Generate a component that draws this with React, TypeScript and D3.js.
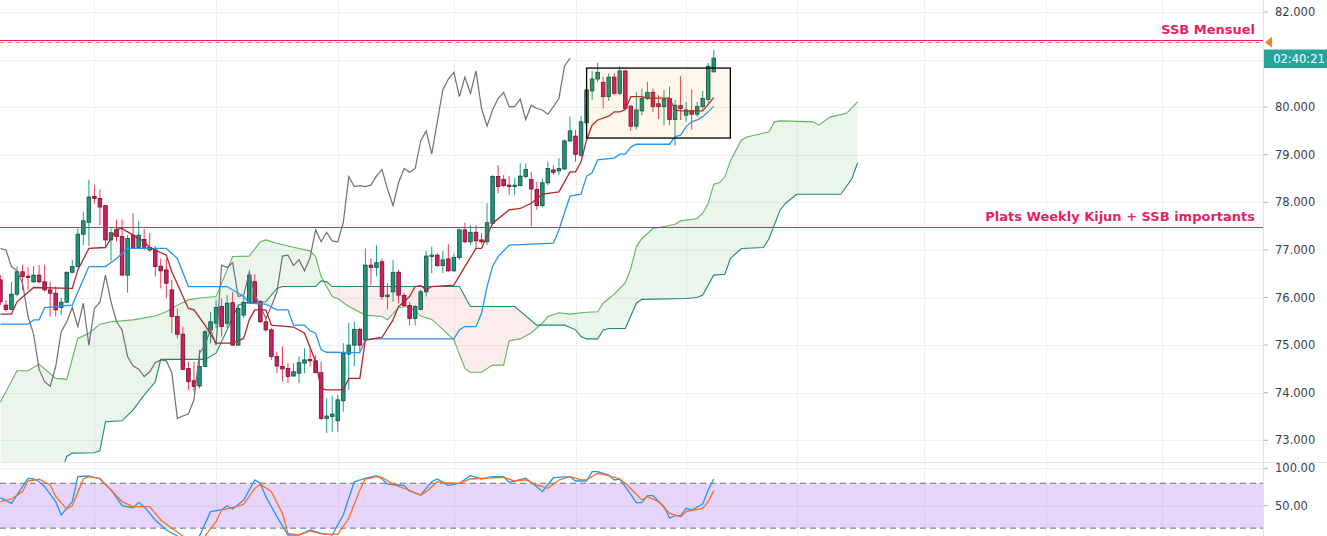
import React from 'react';
import * as d3 from 'd3';

// candles, bar 0 .. 129
const opens = [76.37,75.84,75.75,76.07,76.54,76.45,76.33,76.47,76.33,76.16,76.09,75.79,75.90,76.53,76.65,77.33,77.58,78.12,78.08,77.93,77.21,77.43,77.28,76.47,77.31,77.05,77.22,77.05,77.00,76.66,76.58,76.16,75.60,75.23,74.51,74.25,74.14,74.55,75.32,75.46,75.81,75.46,75.89,75.00,75.63,75.89,76.33,75.91,75.49,75.32,74.76,74.55,74.51,74.35,74.41,74.62,74.70,74.67,74.42,73.46,73.50,73.41,73.83,74.81,75.00,75.33,75.11,76.68,76.63,76.75,76.02,76.12,76.53,76.04,75.83,75.56,75.75,76.12,76.86,76.89,76.67,76.81,76.56,76.84,77.42,77.17,77.37,77.21,77.17,77.56,78.54,78.48,78.36,78.33,78.35,78.54,78.48,78.27,77.93,78.41,78.68,78.66,78.70,79.29,79.39,78.99,79.67,80.34,80.59,80.52,80.22,80.63,80.29,80.76,80.02,79.60,79.92,80.18,80.31,80.07,80.01,80.18,79.74,80.03,79.83,79.92,79.85,80.01,80.16,80.74];
const highs = [76.47,75.95,76.33,76.65,76.68,76.64,76.66,76.68,76.68,76.33,76.23,75.99,76.54,76.79,77.45,77.80,78.47,78.36,78.27,77.94,77.45,77.63,77.64,77.31,77.77,77.61,77.44,77.35,77.08,76.82,76.82,76.37,75.77,75.39,74.65,74.65,74.90,75.32,75.70,75.95,75.98,76.05,76.12,75.84,76.02,76.58,76.49,75.95,75.60,75.36,74.86,74.97,74.62,74.62,74.76,74.93,74.93,74.79,74.65,73.88,73.93,73.95,75.04,75.47,75.49,75.37,77.03,76.82,77.10,76.82,76.30,76.79,76.58,76.09,75.91,75.84,76.16,76.98,77.07,76.93,76.98,77.12,76.93,77.45,77.57,77.52,77.52,77.35,77.98,78.57,78.78,78.57,78.55,78.51,78.82,78.82,78.64,78.43,78.50,78.85,78.78,78.93,79.32,79.80,79.52,79.81,80.38,80.76,80.93,80.64,80.71,80.71,80.86,80.78,80.04,80.32,80.39,80.53,80.39,80.25,80.36,80.43,80.15,80.65,80.11,80.37,80.11,80.34,80.93,81.20];
const lows = [75.84,75.70,75.74,76.02,76.16,76.16,76.30,76.30,76.12,75.60,75.60,75.63,75.88,76.51,76.63,77.10,77.08,77.98,77.52,77.07,76.77,77.17,76.47,76.10,77.02,77.02,77.00,76.96,76.44,76.19,75.98,75.25,75.14,74.48,74.06,74.02,74.09,74.54,75.04,75.36,75.18,75.36,74.98,74.98,75.57,75.88,75.88,75.46,75.28,74.69,74.41,74.23,74.20,74.34,74.20,74.41,74.55,74.41,73.43,73.15,73.18,73.18,73.60,74.06,74.56,74.83,75.07,76.26,76.44,75.95,75.75,75.91,75.88,75.80,75.41,75.41,75.74,76.02,76.51,76.64,76.51,76.54,76.54,76.79,77.14,77.10,77.03,77.12,77.10,77.52,78.19,78.32,78.15,78.15,78.33,78.50,77.49,77.84,77.89,78.36,78.57,78.57,78.68,79.27,78.85,78.96,79.67,80.15,80.53,79.97,80.13,80.25,80.25,79.94,79.50,79.53,79.83,80.15,79.90,79.75,79.62,79.62,79.19,79.73,79.69,79.53,79.80,79.94,80.08,80.73];
const closes = [75.91,75.75,76.07,76.54,76.44,76.42,76.47,76.33,76.16,76.09,75.74,75.90,76.53,76.65,77.33,77.61,78.11,78.08,77.90,77.21,77.36,77.28,76.47,77.24,77.03,77.31,77.03,77.00,76.65,76.56,76.30,75.60,75.23,74.49,74.23,74.13,74.55,75.28,75.49,75.79,75.39,75.88,75.00,75.77,75.90,76.47,75.91,75.49,75.32,74.76,74.56,74.50,74.34,74.44,74.63,74.69,74.67,74.42,73.46,73.51,73.55,73.85,74.83,75.00,75.33,75.00,76.68,76.63,76.73,76.02,76.05,76.53,76.05,75.83,75.56,75.81,76.12,76.87,76.89,76.67,76.79,76.56,76.84,77.42,77.17,77.37,77.19,77.17,77.57,78.54,78.33,78.35,78.33,78.36,78.55,78.69,78.28,77.93,78.41,78.71,78.63,78.71,79.29,79.50,79.01,79.69,80.36,80.59,80.73,80.22,80.63,80.29,80.76,79.97,79.60,79.94,80.18,80.31,80.01,80.01,80.17,79.74,80.04,79.97,79.94,79.85,80.01,80.18,80.86,81.03];

// ichimoku lines: [bar, price]
const tenkan: [number, number][] = [[0,75.65],[2,75.65],[3,75.91],[6,76.21],[13,76.19],[14,76.58],[16,77.03],[19,77.05],[21,77.43],[22,77.45],[24,77.31],[26,77.17],[27,77.05],[30,76.89],[31,76.54],[34,75.77],[35,75.74],[37,75.42],[39,75.04],[42,75.04],[44,75.14],[45,75.53],[46,75.74],[48,75.74],[49,75.42],[53,75.38],[55,75.25],[56,74.95],[57,74.65],[58,74.09],[59,74.06],[62,74.06],[63,74.30],[65,74.30],[66,75.11],[69,75.16],[71,75.53],[72,75.81],[74,76.02],[75,76.23],[76,76.25],[77,76.16],[78,76.23],[82,76.26],[84,76.65],[86,77.03],[87,77.03],[89,77.56],[92,77.84],[94,77.87],[96,77.98],[98,78.17],[101,78.22],[103,78.64],[104,78.64],[105,78.85],[106,79.31],[107,79.62],[108,79.73],[110,79.81],[111,79.90],[112,79.90],[113,79.95],[114,80.22],[116,80.22],[117,80.19],[121,80.19],[122,79.94],[123,79.92],[127,79.92],[129,80.20]];
const kijun: [number, number][] = [[0,75.44],[5,75.44],[6,75.53],[7,75.53],[8,75.79],[13,75.84],[16,76.65],[19,76.65],[21,76.82],[23,77.03],[30,77.03],[32,76.82],[34,76.23],[41,76.23],[44,76.02],[45,75.88],[48,75.86],[50,75.74],[52,75.74],[53,75.42],[55,75.42],[56,75.30],[57,75.25],[58,74.90],[59,74.85],[65,74.84],[66,75.11],[68,75.13],[82,75.13],[83,75.32],[84,75.39],[86,75.39],[87,75.67],[88,76.23],[89,76.65],[90,76.86],[92,77.10],[100,77.14],[101,77.42],[103,78.13],[105,78.17],[106,78.55],[107,78.62],[108,78.89],[111,78.93],[112,79.01],[113,79.01],[114,79.16],[115,79.22],[121,79.22],[122,79.38],[123,79.41],[124,79.59],[125,79.69],[126,79.73],[127,79.80],[128,79.90],[129,80.02]];
const spanA: [number, number][] = [[0,73.80],[3,74.46],[5,74.46],[7,74.60],[10,74.30],[12,74.28],[14,75.14],[16,75.25],[18,75.44],[20,75.49],[24,75.53],[28,75.61],[30,75.70],[32,75.84],[34,75.95],[36,75.99],[39,76.02],[42,76.86],[45,76.87],[47,77.17],[48,77.21],[50,77.14],[54,77.03],[56,76.98],[57,76.86],[58,76.44],[60,76.02],[61,75.98],[63,75.81],[66,75.63],[69,75.60],[70,75.53],[72,75.79],[74,75.81],[76,75.61],[78,75.54],[80,75.33],[82,75.11],[84,74.51],[85,74.43],[87,74.43],[89,74.58],[91,74.58],[92,75.09],[94,75.13],[96,75.26],[98,75.46],[99,75.60],[101,75.68],[103,75.65],[106,75.69],[108,75.70],[109,75.88],[111,76.07],[113,76.31],[114,76.61],[115,77.07],[116,77.24],[118,77.45],[120,77.49],[122,77.54],[123,77.61],[126,77.66],[127,77.77],[128,77.98],[129,78.38],[130,78.41],[131,78.53],[132,78.87],[134,79.31],[135,79.37],[139,79.48],[140,79.69],[141,79.71],[147,79.69],[148,79.62],[150,79.79],[153,79.87],[155,80.11]];
const spanB: [number, number][] = [[0,72.30],[11,72.30],[12,72.66],[13,72.73],[17,72.74],[18,72.78],[19,73.39],[22,73.41],[24,73.64],[26,73.95],[28,74.23],[29,74.70],[37,74.70],[39,74.83],[41,75.32],[43,75.84],[44,75.88],[48,75.91],[50,76.19],[51,76.23],[57,76.23],[58,76.35],[59,76.33],[60,76.23],[83,76.23],[85,75.81],[93,75.81],[97,75.42],[102,75.42],[104,75.32],[105,75.18],[106,75.13],[108,75.13],[109,75.32],[110,75.35],[113,75.35],[115,75.88],[116,75.96],[124,75.98],[126,76.00],[127,76.05],[129,76.47],[131,76.49],[132,76.82],[134,77.03],[138,77.05],[139,77.24],[141,77.84],[142,77.98],[144,78.17],[152,78.17],[154,78.50],[155,78.83]];

// stochastic RSI
const stochK: [number, number][] = [[0,60.7],[2,53.2],[4,75.4],[5,86.6],[6,85.7],[7,82.1],[8,75.4],[10,55.4],[11,37.6],[12,46.5],[13,55.4],[14,88.8],[16,89.7],[18,85.7],[20,71.0],[22,50.0],[24,47.3],[25,54.5],[26,48.7],[28,30.9],[30,17.5],[32,9.5],[34,0],[36,9.5],[38,42.0],[40,44.3],[41,50.0],[42,45.6],[44,57.6],[46,84.4],[47,80.0],[48,62.1],[50,35.4],[52,10.8],[54,10.8],[56,17.5],[58,13.1],[60,10.8],[62,37.6],[64,82.1],[66,86.6],[68,90.1],[69,85.7],[70,79.0],[72,77.7],[73,76.8],[74,69.7],[76,64.3],[78,82.1],[79,85.7],[81,76.8],[83,80.0],[85,90.1],[87,85.7],[89,88.8],[91,88.8],[92,81.3],[95,86.6],[97,75.4],[98,68.8],[100,87.4],[103,88.8],[104,83.0],[106,83.0],[107,95.5],[108,95.5],[110,91.0],[111,84.4],[112,85.7],[113,75.4],[115,54.0],[116,54.0],[117,63.4],[118,63.4],[120,48.7],[121,33.2],[122,36.6],[123,36.6],[124,46.5],[125,44.3],[127,52.3],[128,71.0],[129,85.7]];
const stochD: [number, number][] = [[0,55.4],[2,59.0],[4,68.8],[5,83.0],[7,85.3],[9,77.7],[10,62.1],[12,45.6],[13,50.0],[15,85.7],[16,88.8],[18,86.6],[20,71.0],[22,55.4],[24,48.7],[27,48.7],[29,30.9],[31,19.8],[33,9.5],[35,2],[37,9.5],[39,28.6],[40,44.3],[42,47.3],[44,51.9],[46,73.2],[47,78.6],[49,68.8],[51,39.8],[52,13.1],[54,10.8],[56,16.2],[58,12.2],[61,11.8],[63,33.2],[65,71.0],[66,85.7],[68,88.8],[69,88.0],[71,78.6],[73,73.3],[76,64.3],[77,68.8],[79,82.1],[81,80.0],[83,80.0],[85,85.7],[87,86.6],[91,88.0],[93,83.0],[95,84.4],[97,77.7],[99,73.2],[101,84.4],[103,88.8],[105,84.4],[106,84.4],[108,93.3],[110,90.1],[112,85.7],[113,80.0],[115,65.2],[116,57.6],[117,62.1],[119,55.4],[121,39.8],[123,35.3],[124,42.0],[127,46.5],[128,55.4],[129,70.1]];

const priceTicks = [73, 74, 75, 76, 77, 78, 79, 80, 81, 82];
// 81.000 sits under the countdown label
const priceLabels = [73, 74, 75, 76, 77, 78, 79, 80, 82];
const stochTicks = [100, 50];
const gridBars = [17, 39, 61, 82, 104, 124, 144, 167, 189, 210];

const ssbMensuel = 81.40;
const alertLevel = 81.36;
const weeklyLevel = 77.475;
const boxBars = [106, 132];
const boxPrices = [80.82, 79.35];
const countdown = '02:40:21';

const W = 1327;
const H = 536;
const PLOT_R = 1263;
const MAIN_B = 462;

const FONT = '"DejaVu Sans", Verdana, sans-serif';

export default function App() {
  const x = d3.scaleLinear().domain([0, 129]).range([0.4, 0.4 + 5.53 * 129]);
  const y = d3.scaleLinear().domain([73, 82]).range([440.3, 11.9]);
  const ys = d3.scaleLinear().domain([0, 100]).range([543.1, 468.3]);

  const line = d3.line<[number, number]>().x(d => x(d[0])).y(d => y(d[1]));
  const sline = d3.line<[number, number]>().x(d => x(d[0])).y(d => ys(d[1]));
  const below = d3.area<[number, number]>().x(d => x(d[0])).y0(2000).y1(d => y(d[1]));
  const above = d3.area<[number, number]>().x(d => x(d[0])).y0(-2000).y1(d => y(d[1]));

  // lagging span = close plotted 26 bars back
  const chikou: [number, number][] = closes.slice(26).map((c, j) => [j, c]);

  const grid = '#eef1f0';
  const axisC = '#dfe2e6';
  const crisp = (v: number) => Math.round(v) + 0.5;

  return (
    <svg width={W} height={H} style={{ position: 'absolute', left: 0, top: 0, display: 'block', background: '#fff' }}>
      <defs>
        <clipPath id="mainClip"><rect x={0} y={0} width={PLOT_R} height={MAIN_B} /></clipPath>
        <clipPath id="stochClip"><rect x={0} y={MAIN_B + 0.5} width={PLOT_R} height={H - MAIN_B} /></clipPath>
        <clipPath id="belowA"><path d={below(spanA) || ''} /></clipPath>
        <clipPath id="belowB"><path d={below(spanB) || ''} /></clipPath>
      </defs>

      {/* grid */}
      <g shapeRendering="crispEdges">
        {gridBars.map(b => (
          <line key={'v' + b} x1={crisp(x(b))} x2={crisp(x(b))} y1={0} y2={H} stroke={grid} />
        ))}
        {priceTicks.map(t => (
          <line key={'h' + t} x1={0} x2={PLOT_R} y1={crisp(y(t))} y2={crisp(y(t))} stroke={grid} />
        ))}
        {stochTicks.map(t => (
          <line key={'s' + t} x1={0} x2={PLOT_R} y1={crisp(ys(t))} y2={crisp(ys(t))} stroke={grid} />
        ))}
      </g>

      <g clipPath="url(#mainClip)">
        {/* cloud */}
        <g clipPath="url(#belowA)">
          <path d={above(spanB) || ''} fill="rgba(67,160,71,0.1)" />
        </g>
        <g clipPath="url(#belowB)">
          <path d={above(spanA) || ''} fill="rgba(239,83,80,0.11)" />
        </g>
        <path d={line(spanA) || ''} fill="none" stroke="#5fb55f" strokeWidth={1.1} />
        <path d={line(spanB) || ''} fill="none" stroke="#1a8a6e" strokeWidth={1.1} />

        {/* candles */}
        {closes.map((c, i) => {
          const up = c >= opens[i];
          const cx = x(i);
          const top = y(Math.max(opens[i], c));
          const bot = y(Math.min(opens[i], c));
          return (
            <g key={i}>
              <line x1={cx} x2={cx} y1={y(highs[i])} y2={y(lows[i])} stroke={up ? '#17a086' : '#ef3b4a'} strokeWidth={1} />
              <rect x={cx - 1.8} y={top} width={3.6} height={Math.max(bot - top, 1)}
                fill={up ? '#1f9479' : '#cf1f5c'} stroke={up ? '#0c4e41' : '#6e0d2e'} strokeWidth={0.8} />
            </g>
          );
        })}

        <path d={line(chikou) || ''} fill="none" stroke="#6f7075" strokeWidth={1.2} />
        <path d={line(kijun) || ''} fill="none" stroke="#2196f3" strokeWidth={1.3} />
        <path d={line(tenkan) || ''} fill="none" stroke="#b2262c" strokeWidth={1.3} />

        {/* drawings */}
        <rect x={x(boxBars[0])} y={y(boxPrices[0])} width={x(boxBars[1]) - x(boxBars[0])} height={y(boxPrices[1]) - y(boxPrices[0])}
          fill="rgba(255,152,0,0.08)" stroke="#000" strokeWidth={1.3} />
        <line x1={0} x2={PLOT_R} y1={crisp(y(weeklyLevel))} y2={crisp(y(weeklyLevel))} stroke="#e91e63" strokeWidth={1} shapeRendering="crispEdges" />
        <line x1={0} x2={PLOT_R} y1={crisp(y(ssbMensuel))} y2={crisp(y(ssbMensuel))} stroke="#e91e63" strokeWidth={1} shapeRendering="crispEdges" />
        <line x1={0} x2={PLOT_R} y1={crisp(y(alertLevel))} y2={crisp(y(alertLevel))} stroke="#f7851e" strokeWidth={1} strokeDasharray="4,4" shapeRendering="crispEdges" />
        <text x={1255} y={34.3} textAnchor="end" fontFamily={FONT} fontWeight="bold" fontSize={13} fill="#e91e63">SSB Mensuel</text>
        <text x={1255} y={221} textAnchor="end" fontFamily={FONT} fontWeight="bold" fontSize={13} fill="#e91e63">Plats Weekly Kijun + SSB importants</text>
      </g>

      {/* stochastic panel */}
      <line x1={0} x2={W} y1={MAIN_B + 0.5} y2={MAIN_B + 0.5} stroke={axisC} />
      <g clipPath="url(#stochClip)">
        <rect x={0} y={ys(80)} width={PLOT_R} height={ys(20) - ys(80)} fill="rgba(155,81,240,0.24)" />
        <line x1={0} x2={PLOT_R} y1={ys(80)} y2={ys(80)} stroke="#6a6d78" strokeDasharray="6,4" />
        <line x1={0} x2={PLOT_R} y1={ys(20)} y2={ys(20)} stroke="#6a6d78" strokeDasharray="6,4" />
        <path d={sline(stochK) || ''} fill="none" stroke="#2196f3" strokeWidth={1.3} />
        <path d={sline(stochD) || ''} fill="none" stroke="#ff6d24" strokeWidth={1.3} />
      </g>

      {/* price axis */}
      <line x1={PLOT_R + 0.5} x2={PLOT_R + 0.5} y1={0} y2={H} stroke={axisC} />
      {priceTicks.map(t => (
        <line key={'tk' + t} x1={PLOT_R + 1} x2={PLOT_R + 5} y1={y(t)} y2={y(t)} stroke="#b2b5be" />
      ))}
      {priceLabels.map(t => (
        <text key={'pt' + t} x={1275} y={y(t)} dy="0.35em" fontFamily={FONT} fontSize={11.5} fill="#3b3e48">{t.toFixed(3)}</text>
      ))}
      {stochTicks.map(t => (
        <g key={'st' + t}>
          <line x1={PLOT_R + 1} x2={PLOT_R + 5} y1={ys(t)} y2={ys(t)} stroke="#b2b5be" />
          <text x={1275} y={ys(t)} dy="0.35em" fontFamily={FONT} fontSize={11.5} fill="#3b3e48">{t.toFixed(2)}</text>
        </g>
      ))}
      <path d={`M${PLOT_R + 2},${y(alertLevel)} L${PLOT_R + 9},${y(alertLevel) - 5.5} L${PLOT_R + 9},${y(alertLevel) + 5.5} Z`} fill="#f7851e" />
      <rect x={PLOT_R + 1} y={49.5} width={W - PLOT_R} height={18.5} fill="#26a69a" />
      <text x={1299} y={59} dy="0.35em" textAnchor="middle" fontFamily={FONT} fontSize={11.5} fill="#fff">{countdown}</text>
    </svg>
  );
}
